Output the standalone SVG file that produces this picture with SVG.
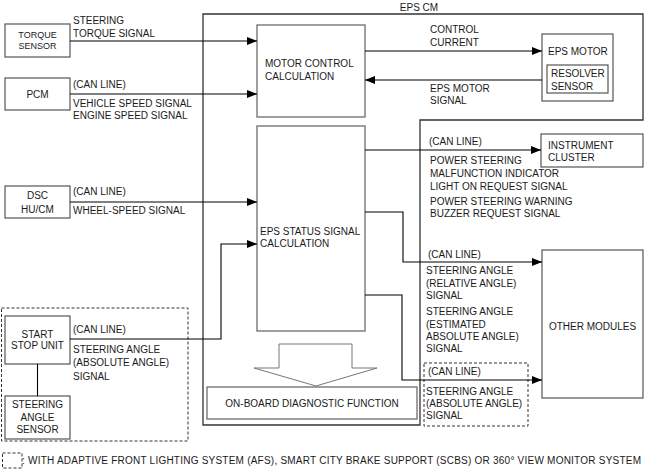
<svg xmlns="http://www.w3.org/2000/svg" width="645" height="469" viewBox="0 0 645 469">
<defs>
<style>
text{font-family:"Liberation Sans",Arial,sans-serif;font-size:10px;fill:#1a1a1a}
.sm{font-size:9px}
.c{text-anchor:middle}
.box{fill:#fff;stroke:#555;stroke-width:1.2}
.gbox{fill:none;stroke:#777;stroke-width:1.4}
.ln{fill:none;stroke:#000;stroke-width:1.1}
.dash{fill:none;stroke:#333;stroke-width:1;stroke-dasharray:3 2}
</style>
<marker id="ah" viewBox="0 0 10 8" refX="10" refY="4" markerWidth="10" markerHeight="8" markerUnits="userSpaceOnUse" orient="auto">
<path d="M0,0 L10,4 L0,8 Z" fill="#000"/>
</marker>
</defs>
<rect width="645" height="469" fill="#fff"/>

<g id="eps-cm">
<polygon points="203,14 643,14 643,120 420,120 420,425 203,425" fill="none" stroke="#333" stroke-width="1.3"/>
<text x="419" y="11" class="c">EPS CM</text>
</g>

<g id="torque-sensor">
<rect x="5" y="24" width="65" height="33" class="box"/>
<text x="37.5" y="38" class="c sm">TORQUE</text>
<text x="37.5" y="49" class="c sm">SENSOR</text>
</g>

<g id="pcm">
<rect x="5" y="78" width="65" height="32" class="box"/>
<text x="37.5" y="98" class="c">PCM</text>
</g>

<g id="dsc">
<rect x="5" y="186" width="65" height="32" class="box"/>
<text x="37.5" y="199" class="c">DSC</text>
<text x="37.5" y="213" class="c">HU/CM</text>
</g>

<g id="start-stop-unit">
<rect x="5" y="316" width="65" height="48" class="box"/>
<text x="37.5" y="338" class="c">START</text>
<text x="37.5" y="349" class="c">STOP UNIT</text>
</g>

<g id="steering-angle-sensor">
<rect x="5" y="396" width="65" height="43" class="box"/>
<text x="37.5" y="408" class="c">STEERING</text>
<text x="37.5" y="421" class="c">ANGLE</text>
<text x="37.5" y="433" class="c">SENSOR</text>
</g>

<g id="motor-control">
<rect x="257" y="25" width="108" height="92" class="gbox"/>
<text x="265" y="67">MOTOR CONTROL</text>
<text x="265" y="80">CALCULATION</text>
</g>

<g id="eps-status">
<rect x="257" y="126" width="108" height="205" class="gbox"/>
<text x="260" y="235">EPS STATUS SIGNAL</text>
<text x="260" y="247">CALCULATION</text>
</g>

<g id="obd">
<polygon points="279,344 352,344 352,368 377,368 316,386 254,368 279,368" fill="#fff" stroke="#777" stroke-width="1"/>
<rect x="207" y="387" width="210" height="32" class="gbox"/>
<text x="312" y="407" class="c">ON-BOARD DIAGNOSTIC FUNCTION</text>
</g>

<g id="eps-motor">
<rect x="542" y="34" width="71" height="67" class="box"/>
<text x="548" y="55">EPS MOTOR</text>
<rect x="547" y="65" width="61" height="28" class="box"/>
<text x="551" y="77">RESOLVER</text>
<text x="551" y="90">SENSOR</text>
</g>

<g id="instrument-cluster">
<rect x="541" y="134" width="102" height="33" class="box"/>
<text x="548" y="149">INSTRUMENT</text>
<text x="548" y="161">CLUSTER</text>
</g>

<g id="other-modules">
<rect x="542" y="250" width="101" height="148" class="box"/>
<text x="592.5" y="330" class="c">OTHER MODULES</text>
</g>

<g id="option-frames">
<rect x="1.5" y="308" width="186.5" height="133" class="dash"/>
<rect x="424" y="363" width="104" height="63" class="dash"/>
</g>

<g id="connectors">
<line x1="70" y1="41" x2="257" y2="41" class="ln" marker-end="url(#ah)"/>
<line x1="70" y1="94" x2="257" y2="94" class="ln" marker-end="url(#ah)"/>
<line x1="70" y1="202" x2="257" y2="202" class="ln" marker-end="url(#ah)"/>
<polyline points="70,339 221,339 221,244 257,244" class="ln" marker-end="url(#ah)"/>
<line x1="37.5" y1="364" x2="37.5" y2="396" class="ln"/>
<line x1="365" y1="51" x2="542" y2="51" class="ln" marker-end="url(#ah)"/>
<line x1="542" y1="80" x2="365" y2="80" class="ln" marker-end="url(#ah)"/>
<line x1="365" y1="150" x2="541" y2="150" class="ln" marker-end="url(#ah)"/>
<polyline points="365,212 403,212 403,262 542,262" class="ln" marker-end="url(#ah)"/>
<polyline points="365,295 402,295 402,380 542,380" class="ln" marker-end="url(#ah)"/>
</g>

<g id="labels">
<text x="73" y="24">STEERING</text>
<text x="73" y="37">TORQUE SIGNAL</text>
<text x="73" y="88">(CAN LINE)</text>
<text x="73" y="107">VEHICLE SPEED SIGNAL</text>
<text x="73" y="119">ENGINE SPEED SIGNAL</text>
<text x="73" y="195">(CAN LINE)</text>
<text x="73" y="214">WHEEL-SPEED SIGNAL</text>
<text x="73" y="333">(CAN LINE)</text>
<text x="73" y="353">STEERING ANGLE</text>
<text x="73" y="366">(ABSOLUTE ANGLE)</text>
<text x="73" y="380">SIGNAL</text>
<text x="430" y="33">CONTROL</text>
<text x="430" y="46">CURRENT</text>
<text x="430" y="92">EPS MOTOR</text>
<text x="430" y="104">SIGNAL</text>
<text x="429" y="145">(CAN LINE)</text>
<text x="430" y="164">POWER STEERING</text>
<text x="430" y="177">MALFUNCTION INDICATOR</text>
<text x="430" y="190">LIGHT ON REQUEST SIGNAL</text>
<text x="430" y="205">POWER STEERING WARNING</text>
<text x="430" y="217">BUZZER REQUEST SIGNAL</text>
<text x="428" y="258">(CAN LINE)</text>
<text x="426" y="274">STEERING ANGLE</text>
<text x="426" y="287">(RELATIVE ANGLE)</text>
<text x="426" y="299">SIGNAL</text>
<text x="426" y="315">STEERING ANGLE</text>
<text x="426" y="328">(ESTIMATED</text>
<text x="426" y="340">ABSOLUTE ANGLE)</text>
<text x="426" y="352">SIGNAL</text>
<text x="428" y="375">(CAN LINE)</text>
<text x="426" y="395">STEERING ANGLE</text>
<text x="426" y="407">(ABSOLUTE ANGLE)</text>
<text x="426" y="419">SIGNAL</text>
</g>

<g id="legend">
<rect x="2.5" y="453" width="19.5" height="15" class="dash"/>
<text x="22" y="464" textLength="619" lengthAdjust="spacing">: WITH ADAPTIVE FRONT LIGHTING SYSTEM (AFS), SMART CITY BRAKE SUPPORT (SCBS) OR 360° VIEW MONITOR SYSTEM</text>
</g>
</svg>
